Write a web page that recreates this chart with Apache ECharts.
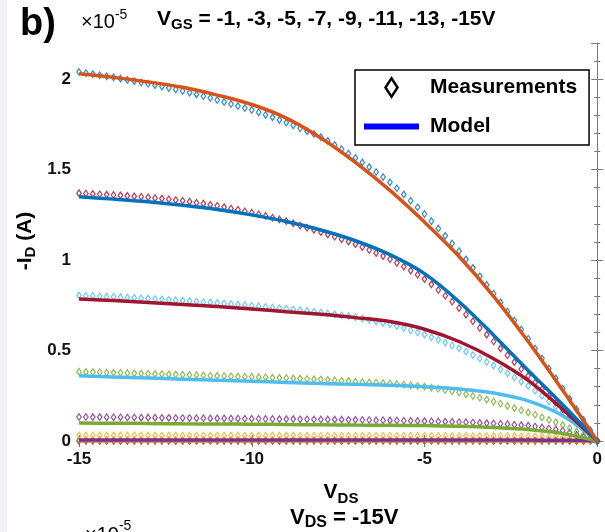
<!DOCTYPE html>
<html>
<head>
<meta charset="utf-8">
<script src="https://cdn.jsdelivr.net/npm/echarts@6/dist/echarts.min.js"></script>
<style>
  html, body { margin: 0; padding: 0; background: #fff; }
  #chart { width: 605px; height: 532px; }
</style>
</head>
<body>
<div id="chart"></div>
<script>
// V_DS grid of the measured points (0.2 V step)
const vdsMeas = [
  -15, -14.8, -14.6, -14.4, -14.2, -14, -13.8, -13.6, -13.4, -13.2,
  -13, -12.8, -12.6, -12.4, -12.2, -12, -11.8, -11.6, -11.4, -11.2,
  -11, -10.8, -10.6, -10.4, -10.2, -10, -9.8, -9.6, -9.4, -9.2,
  -9, -8.8, -8.6, -8.4, -8.2, -8, -7.8, -7.6, -7.4, -7.2,
  -7, -6.8, -6.6, -6.4, -6.2, -6, -5.8, -5.6, -5.4, -5.2,
  -5, -4.8, -4.6, -4.4, -4.2, -4, -3.8, -3.6, -3.4, -3.2,
  -3, -2.8, -2.6, -2.4, -2.2, -2, -1.8, -1.6, -1.4, -1.2,
  -1, -0.8, -0.6, -0.4, -0.2, 0
];

// measured -I_D (x1e-5 A), one array per V_GS
const meas15 = [
  2.040, 2.034, 2.028, 2.022, 2.016, 2.010, 2.003, 1.996, 1.989, 1.982,
  1.975, 1.967, 1.959, 1.951, 1.943, 1.935, 1.926, 1.916, 1.906, 1.896,
  1.885, 1.874, 1.863, 1.852, 1.841, 1.830, 1.817, 1.803, 1.789, 1.775,
  1.760, 1.745, 1.729, 1.713, 1.697, 1.680, 1.659, 1.636, 1.613, 1.589,
  1.565, 1.540, 1.514, 1.487, 1.459, 1.430, 1.397, 1.363, 1.328, 1.292,
  1.255, 1.215, 1.175, 1.134, 1.092, 1.050, 1.004, 0.957, 0.910, 0.863,
  0.815, 0.766, 0.716, 0.666, 0.616, 0.565, 0.511, 0.456, 0.401, 0.346,
  0.290, 0.233, 0.175, 0.117, 0.059, 0
];
const meas13 = [
  1.370, 1.368, 1.366, 1.364, 1.362, 1.360, 1.358, 1.355, 1.352, 1.350,
  1.347, 1.343, 1.340, 1.336, 1.332, 1.328, 1.323, 1.317, 1.312, 1.306,
  1.300, 1.293, 1.285, 1.278, 1.270, 1.262, 1.253, 1.244, 1.234, 1.225,
  1.215, 1.203, 1.191, 1.179, 1.167, 1.155, 1.142, 1.129, 1.115, 1.102,
  1.088, 1.072, 1.056, 1.039, 1.022, 1.005, 0.985, 0.964, 0.942, 0.919,
  0.895, 0.866, 0.835, 0.803, 0.770, 0.735, 0.699, 0.662, 0.625, 0.588,
  0.550, 0.512, 0.474, 0.436, 0.398, 0.360, 0.323, 0.286, 0.249, 0.212,
  0.175, 0.140, 0.105, 0.070, 0.035, 0
];
const meas11 = [
  0.805, 0.803, 0.802, 0.800, 0.799, 0.797, 0.795, 0.793, 0.791, 0.789,
  0.787, 0.785, 0.783, 0.780, 0.778, 0.776, 0.773, 0.771, 0.768, 0.766,
  0.763, 0.760, 0.757, 0.754, 0.751, 0.748, 0.745, 0.741, 0.738, 0.734,
  0.731, 0.727, 0.723, 0.719, 0.714, 0.710, 0.705, 0.700, 0.695, 0.690,
  0.684, 0.677, 0.669, 0.661, 0.653, 0.645, 0.635, 0.624, 0.612, 0.600,
  0.588, 0.574, 0.559, 0.544, 0.528, 0.512, 0.494, 0.475, 0.456, 0.437,
  0.418, 0.396, 0.374, 0.351, 0.328, 0.305, 0.278, 0.250, 0.220, 0.190,
  0.160, 0.128, 0.096, 0.064, 0.032, 0
];
const meas9 = [
  0.383, 0.382, 0.381, 0.380, 0.379, 0.378, 0.377, 0.376, 0.374, 0.373,
  0.372, 0.371, 0.370, 0.368, 0.367, 0.366, 0.365, 0.364, 0.362, 0.361,
  0.360, 0.359, 0.358, 0.356, 0.355, 0.354, 0.353, 0.352, 0.350, 0.349,
  0.348, 0.346, 0.345, 0.343, 0.342, 0.340, 0.338, 0.336, 0.333, 0.331,
  0.328, 0.326, 0.324, 0.322, 0.320, 0.318, 0.315, 0.312, 0.308, 0.304,
  0.300, 0.295, 0.289, 0.282, 0.275, 0.268, 0.259, 0.249, 0.239, 0.229,
  0.218, 0.206, 0.194, 0.182, 0.170, 0.158, 0.145, 0.131, 0.117, 0.103,
  0.088, 0.071, 0.053, 0.036, 0.018, 0
];
const meas7 = [
  0.133, 0.133, 0.132, 0.132, 0.131, 0.131, 0.131, 0.130, 0.130, 0.129,
  0.129, 0.129, 0.128, 0.128, 0.127, 0.127, 0.127, 0.126, 0.126, 0.125,
  0.125, 0.125, 0.124, 0.124, 0.123, 0.123, 0.123, 0.122, 0.122, 0.121,
  0.121, 0.121, 0.120, 0.120, 0.119, 0.119, 0.119, 0.118, 0.118, 0.117,
  0.117, 0.116, 0.116, 0.115, 0.115, 0.114, 0.113, 0.112, 0.112, 0.111,
  0.110, 0.109, 0.108, 0.107, 0.106, 0.105, 0.104, 0.102, 0.100, 0.099,
  0.097, 0.095, 0.093, 0.090, 0.088, 0.085, 0.080, 0.075, 0.069, 0.064,
  0.058, 0.047, 0.035, 0.023, 0.012, 0
];
const meas5 = [
  0.031, 0.031, 0.031, 0.031, 0.031, 0.031, 0.031, 0.031, 0.031, 0.031,
  0.031, 0.030, 0.030, 0.030, 0.030, 0.030, 0.030, 0.030, 0.030, 0.030,
  0.030, 0.030, 0.030, 0.030, 0.030, 0.030, 0.030, 0.030, 0.030, 0.030,
  0.030, 0.030, 0.029, 0.029, 0.029, 0.029, 0.029, 0.029, 0.029, 0.029,
  0.029, 0.029, 0.029, 0.029, 0.029, 0.029, 0.029, 0.029, 0.029, 0.029,
  0.029, 0.029, 0.029, 0.029, 0.028, 0.028, 0.028, 0.028, 0.028, 0.028,
  0.028, 0.028, 0.027, 0.027, 0.026, 0.026, 0.025, 0.024, 0.023, 0.022,
  0.020, 0.017, 0.013, 0.009, 0.004, 0
];
const meas3 = [
  0.003, 0.003, 0.003, 0.003, 0.003, 0.003, 0.003, 0.003, 0.003, 0.003,
  0.003, 0.003, 0.003, 0.003, 0.003, 0.003, 0.003, 0.003, 0.003, 0.003,
  0.003, 0.003, 0.003, 0.003, 0.003, 0.003, 0.003, 0.003, 0.003, 0.003,
  0.003, 0.003, 0.003, 0.003, 0.003, 0.003, 0.003, 0.003, 0.003, 0.003,
  0.003, 0.003, 0.003, 0.003, 0.003, 0.003, 0.003, 0.003, 0.003, 0.003,
  0.003, 0.003, 0.003, 0.003, 0.003, 0.003, 0.003, 0.003, 0.003, 0.003,
  0.003, 0.003, 0.003, 0.003, 0.003, 0.003, 0.003, 0.003, 0.003, 0.003,
  0.003, 0.002, 0.002, 0.001, 0.001, 0
];
const meas1 = [
  0, 0, 0, 0, 0, 0, 0, 0, 0, 0,
  0, 0, 0, 0, 0, 0, 0, 0, 0, 0,
  0, 0, 0, 0, 0, 0, 0, 0, 0, 0,
  0, 0, 0, 0, 0, 0, 0, 0, 0, 0,
  0, 0, 0, 0, 0, 0, 0, 0, 0, 0,
  0, 0, 0, 0, 0, 0, 0, 0, 0, 0,
  0, 0, 0, 0, 0, 0, 0, 0, 0, 0,
  0, 0, 0, 0, 0, 0
];

// model curves, 1 V step
const vdsModel = [-15, -14, -13, -12, -11, -10, -9, -8, -7, -6, -5, -4, -3, -2, -1, 0];
const model15 = [2.03, 2.01, 1.985, 1.955, 1.912, 1.86, 1.785, 1.675, 1.54, 1.385, 1.21, 1.02, 0.80, 0.55, 0.28, 0];
const model13 = [1.35, 1.337, 1.322, 1.303, 1.28, 1.25, 1.213, 1.166, 1.107, 1.03, 0.925, 0.77, 0.585, 0.39, 0.20, 0];
const model11 = [0.785, 0.776, 0.766, 0.755, 0.743, 0.73, 0.715, 0.70, 0.682, 0.66, 0.618, 0.55, 0.455, 0.335, 0.175, 0];
const model9 = [0.36, 0.354, 0.348, 0.342, 0.336, 0.33, 0.324, 0.318, 0.313, 0.308, 0.30, 0.288, 0.265, 0.222, 0.14, 0];
const model7 = [0.10, 0.098, 0.097, 0.095, 0.094, 0.093, 0.091, 0.09, 0.088, 0.087, 0.085, 0.081, 0.074, 0.063, 0.042, 0];
const model5 = [0.006, 0.006, 0.006, 0.006, 0.006, 0.006, 0.006, 0.006, 0.006, 0.006, 0.006, 0.006, 0.005, 0.005, 0.004, 0];
const model3 = [0.002, 0.002, 0.002, 0.002, 0.002, 0.002, 0.002, 0.002, 0.002, 0.002, 0.002, 0.002, 0.002, 0.002, 0.001, 0];
const model1 = [0, 0, 0, 0, 0, 0, 0, 0, 0, 0, 0, 0, 0, 0, 0, 0];

const xTicks = [-15, -10, -5, 0];
const yTicks = [0, 0.5, 1, 1.5, 2];

// matlab default colour order
const C = {
  blue: '#0072BD', orange: '#D95319', yellow: '#EDB120', purple: '#7E2F8E',
  green: '#77AC30', lblue: '#4DBEEE', dred: '#A2142F'
};

const FONT = '"Liberation Sans", Arial, sans-serif';
const AXIS_COLOR = '#7a7a7a';

const measSets = [
  { name: 'VGS=-1 meas', y: meas1, color: C.blue },
  { name: 'VGS=-3 meas', y: meas3, color: C.orange },
  { name: 'VGS=-5 meas', y: meas5, color: C.yellow },
  { name: 'VGS=-7 meas', y: meas7, color: C.purple },
  { name: 'VGS=-9 meas', y: meas9, color: C.green },
  { name: 'VGS=-11 meas', y: meas11, color: C.lblue },
  { name: 'VGS=-13 meas', y: meas13, color: C.dred },
  { name: 'VGS=-15 meas', y: meas15, color: C.blue }
];
const modelSets = [
  { name: 'VGS=-1 model', y: model1, color: C.orange },
  { name: 'VGS=-3 model', y: model3, color: C.yellow },
  { name: 'VGS=-5 model', y: model5, color: C.purple },
  { name: 'VGS=-7 model', y: model7, color: C.green },
  { name: 'VGS=-9 model', y: model9, color: C.lblue },
  { name: 'VGS=-11 model', y: model11, color: C.dred },
  { name: 'VGS=-13 model', y: model13, color: C.blue },
  { name: 'VGS=-15 model', y: model15, color: C.orange }
];

const series = [];
measSets.forEach(function (s) {
  series.push({
    name: s.name,
    type: 'scatter',
    symbol: 'diamond',
    symbolSize: [4.5, 6.5],
    itemStyle: { color: 'rgba(255,255,255,0)', borderColor: s.color, borderWidth: 1.3 },
    data: vdsMeas.map(function (v, i) { return [v, s.y[i]]; }),
    silent: true,
    z: 2
  });
});
modelSets.forEach(function (s) {
  series.push({
    name: s.name,
    type: 'line',
    symbol: 'none',
    smooth: 0.35,
    lineStyle: { color: s.color, width: 3.5 },
    data: vdsModel.map(function (v, i) { return [v, s.y[i]]; }),
    silent: true,
    z: 3
  });
});
// legend only entries
series.push({
  name: 'Measurements', type: 'line', data: [], symbol: 'diamond',
  itemStyle: { color: '#000' }, lineStyle: { width: 0 }
});
series.push({
  name: 'Model', type: 'line', data: [], symbol: 'none',
  itemStyle: { color: '#0000ff' }, lineStyle: { color: '#0000ff', width: 5 }
});

const tickLabel = { fontFamily: FONT, fontSize: 17, fontWeight: 'bold', color: '#111' };

function yAxisCfg(pos, interval, len, main) {
  return {
    type: 'value', position: pos, min: 0, max: 2.2, interval: interval,
    axisLine: { show: main && pos === 'left', lineStyle: { color: AXIS_COLOR, width: 1 } },
    axisTick: { show: true, inside: true, length: len, lineStyle: { color: AXIS_COLOR, width: 1 } },
    axisLabel: Object.assign({ show: main && pos === 'left', margin: 8, showMaxLabel: false }, tickLabel),
    splitLine: { show: false }
  };
}

const chart = echarts.init(document.getElementById('chart'), null, { renderer: 'canvas' });

const option = {
  animation: false,
  backgroundColor: '#fff',
  grid: { left: 79, right: 1, top: 43, bottom: 91 },
  xAxis: [
    {
      type: 'value', position: 'bottom', min: xTicks[0], max: xTicks[xTicks.length - 1], interval: 5,
      axisLine: { lineStyle: { color: AXIS_COLOR, width: 1 } },
      axisTick: { inside: true, length: 6, lineStyle: { color: AXIS_COLOR } },
      axisLabel: Object.assign({ margin: 10 }, tickLabel),
      splitLine: { show: false }
    },
    {
      type: 'value', position: 'top', min: xTicks[0], max: xTicks[xTicks.length - 1], interval: 5,
      axisLine: { lineStyle: { color: AXIS_COLOR, width: 1 } },
      axisTick: { inside: true, length: 6, lineStyle: { color: AXIS_COLOR } },
      axisLabel: { show: false },
      splitLine: { show: false }
    }
  ],
  yAxis: [
    yAxisCfg('left', yTicks[1] - yTicks[0], 6, true),
    yAxisCfg('left', 0.1, 3, false),
    yAxisCfg('right', 0.5, 6, false),
    yAxisCfg('right', 0.1, 3, false)
  ],
  legend: {
    orient: 'vertical',
    left: 355, top: 70,
    padding: [6, 12, 8, 9],
    itemGap: 17,
    itemWidth: 55, itemHeight: 23,
    backgroundColor: '#fff',
    borderColor: '#000', borderWidth: 1.5, borderRadius: 0,
    selectedMode: false,
    textStyle: { fontFamily: FONT, fontSize: 21, fontWeight: 'bold', color: '#000', padding: [0, 0, 0, 6] },
    data: [
      { name: 'Measurements', icon: 'path://M7.5,0 L15,11.5 L7.5,23 L0,11.5 Z M7.5,4.5 L3,11.5 L7.5,18.5 L12,11.5 Z' },
      { name: 'Model', icon: 'path://M0,0 L55,0 L55,6 L0,6 Z' }
    ]
  },
  graphic: [
    { type: 'rect', shape: { x: 0, y: 0, width: 7, height: 532 }, style: { fill: '#f3f3f5' }, z: -10, silent: true },
    {
      type: 'text', x: 20, y: 25,
      style: { text: 'b)', font: 'bold 38px ' + FONT, fill: '#000', textAlign: 'left', textVerticalAlign: 'middle' }
    },
    {
      type: 'text', x: 81, y: 8,
      style: {
        text: '{m|\u00d710}{p|-5}', textAlign: 'left', textVerticalAlign: 'top',
        rich: {
          m: { fontFamily: FONT, fontSize: 20, fill: '#000', lineHeight: 24, verticalAlign: 'bottom' },
          p: { fontFamily: FONT, fontSize: 14, fill: '#000', lineHeight: 24, verticalAlign: 'top', padding: [0, 0, 10, 0] }
        }
      }
    },
    {
      type: 'text', x: 157, y: 6,
      style: {
        text: '{m|V}{s|GS}{m| = -1, -3, -5, -7, -9, -11, -13, -15V}', textAlign: 'left', textVerticalAlign: 'top',
        rich: {
          m: { fontFamily: FONT, fontSize: 21, fontWeight: 'bold', fill: '#000', lineHeight: 26 },
          s: { fontFamily: FONT, fontSize: 15, fontWeight: 'bold', fill: '#000', lineHeight: 12, verticalAlign: 'bottom' }
        }
      }
    },
    {
      type: 'text', x: 25, y: 241, rotation: Math.PI / 2,
      style: {
        text: '{m|-I}{s|D}{m| (A)}', textAlign: 'center', textVerticalAlign: 'middle',
        rich: {
          m: { fontFamily: FONT, fontSize: 21, fontWeight: 'bold', fill: '#000', lineHeight: 26 },
          s: { fontFamily: FONT, fontSize: 15, fontWeight: 'bold', fill: '#000', lineHeight: 10, verticalAlign: 'bottom' }
        }
      }
    },
    {
      type: 'text', x: 341, y: 478,
      style: {
        text: '{m|V}{s|DS}', textAlign: 'center', textVerticalAlign: 'top',
        rich: {
          m: { fontFamily: FONT, fontSize: 21, fontWeight: 'bold', fill: '#000', lineHeight: 28 },
          s: { fontFamily: FONT, fontSize: 15, fontWeight: 'bold', fill: '#000', lineHeight: 8, verticalAlign: 'bottom' }
        }
      }
    },
    {
      type: 'text', x: 290, y: 505,
      style: {
        text: '{m|V}{s|DS}{m| = -15V}', textAlign: 'left', textVerticalAlign: 'top',
        rich: {
          m: { fontFamily: FONT, fontSize: 22, fontWeight: 'bold', fill: '#000', lineHeight: 26 },
          s: { fontFamily: FONT, fontSize: 16, fontWeight: 'bold', fill: '#000', lineHeight: 8, verticalAlign: 'bottom' }
        }
      }
    },
    {
      type: 'text', x: 85, y: 519,
      style: {
        text: '{m|\u00d710}{p|-5}', textAlign: 'left', textVerticalAlign: 'top',
        rich: {
          m: { fontFamily: FONT, fontSize: 20, fill: '#000', lineHeight: 26, verticalAlign: 'bottom' },
          p: { fontFamily: FONT, fontSize: 14, fill: '#000', lineHeight: 26, verticalAlign: 'top', padding: [0, 0, 10, 0] }
        }
      }
    }
  ],
  series: series
};

chart.setOption(option);
</script>
</body>
</html>
